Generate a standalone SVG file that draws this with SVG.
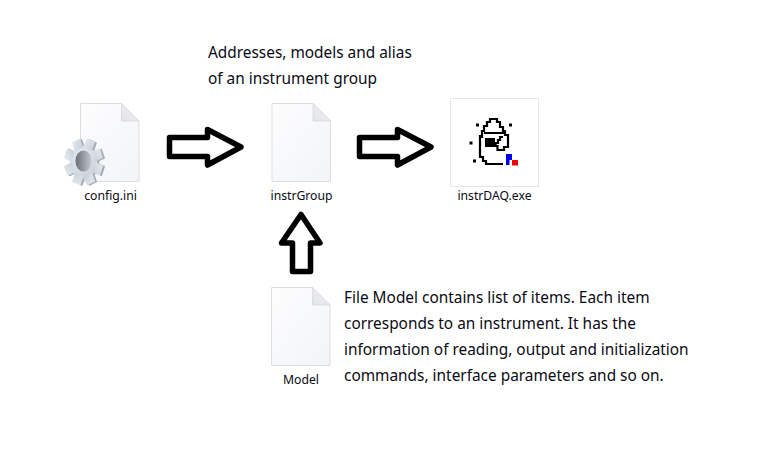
<svg xmlns="http://www.w3.org/2000/svg" xmlns:xlink="http://www.w3.org/1999/xlink" width="777" height="450" viewBox="0 0 777 450">
<style>
text{font-family:"Noto Sans","Open Sans","Liberation Sans",sans-serif;fill:#0a0a14}
.note{font-size:15.4px}
.lab{font-size:12.2px;text-anchor:middle}
.arrow{fill:#fff;stroke:#000;stroke-width:5.500;stroke-linejoin:round}
.page{fill:url(#pg);stroke:#dcdfe2;stroke-width:1}
.fold{fill:url(#fd);stroke:#d4d6d8;stroke-width:.7}
.px{fill:none;stroke:#000;stroke-width:2.200}
</style>
<defs>
<linearGradient id="pg" x1="0" y1="0" x2="1" y2="1"><stop offset="0" stop-color="#fdfdfe"/><stop offset="1" stop-color="#f2f4f6"/></linearGradient>
<linearGradient id="fd" x1="0" y1="1" x2="1" y2="0"><stop offset="0" stop-color="#e2e3e5"/><stop offset="1" stop-color="#f4f4f5"/></linearGradient>
<linearGradient id="gf" x1="0" y1="0" x2="1" y2="1"><stop offset="0" stop-color="#e6eaef"/><stop offset="1" stop-color="#c8d0d8"/></linearGradient>
<linearGradient id="gh" x1="0" y1="0" x2="1" y2="0"><stop offset="0" stop-color="#6b7078"/><stop offset="1" stop-color="#c5c9ce"/></linearGradient>
<g id="doc"><path class="page" d="M0 0H41L58.500 17.500V78H0Z"/><path class="fold" d="M41 0V17.500H58.500Z"/></g>
<g id="gearshape"><circle r="15.500"/><rect x="-5" y="-22" width="10" height="9"/><rect x="-5" y="-22" width="10" height="9" transform="rotate(45)"/><rect x="-5" y="-22" width="10" height="9" transform="rotate(90)"/><rect x="-5" y="-22" width="10" height="9" transform="rotate(135)"/><rect x="-5" y="-22" width="10" height="9" transform="rotate(180)"/><rect x="-5" y="-22" width="10" height="9" transform="rotate(225)"/><rect x="-5" y="-22" width="10" height="9" transform="rotate(270)"/><rect x="-5" y="-22" width="10" height="9" transform="rotate(315)"/></g>
</defs>
<rect width="777" height="450" fill="#fff"/>
<g id="connectors">
<path class="arrow" d="M169.500 137.500H207.500V129.500L241 147L207.500 165V156.500H169.500Z"/>
<path class="arrow" d="M359.500 137.500H397.500V129.500L431 147L397.500 165V156.500H359.500Z"/>
<path class="arrow" d="M292.500 271.500V243H281.500L301 214.500L320 243H310.500V271.500Z"/>
</g>
<g id="config">
<use xlink:href="#doc" href="#doc" transform="translate(80.500 103.500)"/>
<g transform="translate(85.500 162.500) scale(.88 1.06) rotate(22)"><use xlink:href="#gearshape" href="#gearshape" fill="#a3abb5"/></g>
<g transform="translate(83.500 162) scale(.88 1.06) rotate(22)"><use xlink:href="#gearshape" href="#gearshape" fill="url(#gf)"/></g>
<ellipse cx="83.500" cy="161" rx="8" ry="10.500" fill="url(#gh)"/>
<text class="lab" x="110.500" y="200">config.ini</text>
</g>
<g id="instrGroup">
<use xlink:href="#doc" href="#doc" transform="translate(272 103.500)"/>
<text class="lab" x="301.500" y="200">instrGroup</text>
</g>
<g id="Model">
<use xlink:href="#doc" href="#doc" transform="translate(271.500 287.500)"/>
<text class="lab" x="301" y="384">Model</text>
</g>
<g id="instrDAQ">
<rect x="450.500" y="98.500" width="88" height="88" fill="#fff" stroke="#e6e6e6"/>
<path d="M476 123.500h3v3h-3zM509 123.500h3v3h-3zM469.500 141.500h3v3h-3zM473 159.500h3v3h-3z" fill="#000"/>
<path class="px" d="M480 135V157H483V161H486V164H503M480 137H482V131H484V126H487V122H490V119H497V122H500V127H503V131H505V135H508V147H504V150H497.500V146H495.500V143H498V140H500V137H503M484 133H504"/>
<rect x="485" y="138" width="10" height="9" fill="#000"/>
<path d="M506 154h6v6h-2.500v5h-3.500z" fill="#0000f0"/>
<rect x="512" y="160" width="6" height="5.500" fill="#f00000"/>
<text class="lab" x="494.500" y="200">instrDAQ.exe</text>
</g>
<g id="notes">
<text class="note" x="208" y="58">Addresses, models and alias</text>
<text class="note" x="208" y="84">of an instrument group</text>
<text class="note" x="344" y="303">File Model contains list of items. Each item</text>
<text class="note" x="344" y="329">corresponds to an instrument. It has the</text>
<text class="note" x="344" y="355">information of reading, output and initialization</text>
<text class="note" x="344" y="381">commands, interface parameters and so on.</text>
</g>
</svg>
